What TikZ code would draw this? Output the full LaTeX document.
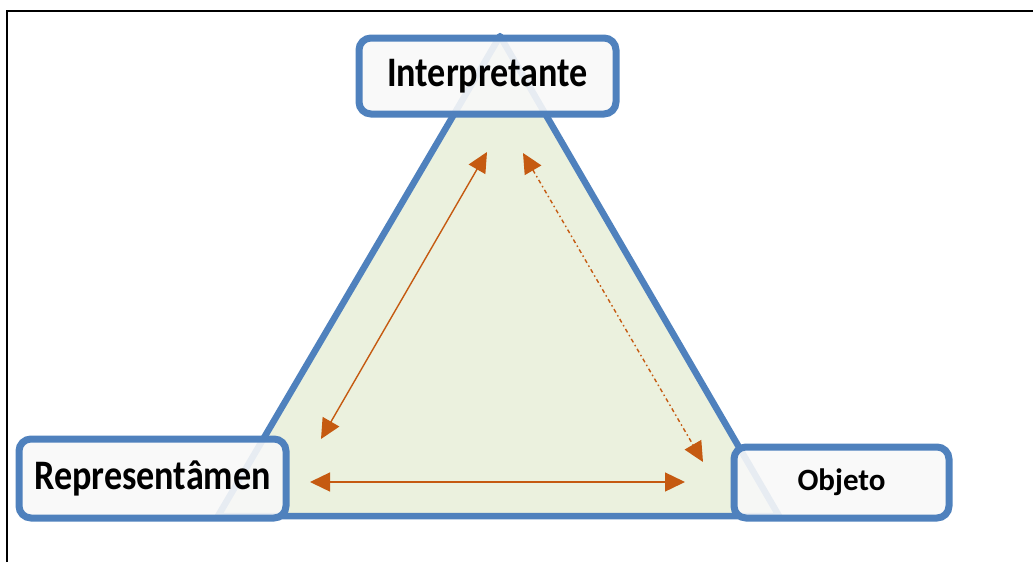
\documentclass[tikz,border=0pt]{standalone}
\usepackage{fontspec}
\newfontfamily\labelfont[FakeStretch=0.86]{Carlito}
\newfontfamily\smalllabelfont{Carlito}
\definecolor{blue1}{RGB}{79, 129, 189}
\definecolor{green1}{RGB}{235, 241, 222}
\definecolor{box1}{RGB}{248, 248, 248}
\definecolor{orange1}{RGB}{197, 90, 17}
\usetikzlibrary{arrows.meta}

\begin{document}
\begin{tikzpicture}[x=1pt, y=-1pt,
    corner/.style={draw=blue1, line width=7pt, rounded corners=12pt, fill=box1,
      fill opacity=0.9, text opacity=1, inner sep=0pt},
    relation/.style={draw=orange1, line width=1.4pt,
      {Triangle[length=20pt, width=19pt]}-{Triangle[length=20pt, width=19pt]}}]
  \useasboundingbox (0,0) rectangle (1033,562);
  \draw[line width=2pt] (7,562) |- (1033,11);

  % triangle of the sign
  \filldraw[fill=green1, draw=blue1, line width=6.5pt, line join=round]
    (500,36) -- (779,516) -- (218,516) -- cycle;

  % corners
  \node[corner, minimum width=257pt, minimum height=76pt] (interp) at (487.5,76)
    {\labelfont\fontsize{42}{48}\selectfont\bfseries Interpretante};
  \node[corner, minimum width=267pt, minimum height=79pt] (repr) at (152.5,478.5)
    {\labelfont\fontsize{42}{48}\selectfont\bfseries Representâmen};
  \node[corner, minimum width=215pt, minimum height=71pt] (obj) at (841.5,482.5)
    {\smalllabelfont\fontsize{31}{36}\selectfont\bfseries Objeto};

  % relations
  \coordinate (interp-l) at (487,152);
  \coordinate (interp-r) at (523,153);
  \coordinate (repr-t) at (321,439);
  \coordinate (repr-r) at (310,482);
  \coordinate (obj-l) at (685,482);
  \coordinate (obj-t) at (703,462);
  \draw[relation] (interp-l) -- (repr-t);
  \draw[relation, dash pattern=on 4pt off 3pt on 1.5pt off 3pt] (interp-r) -- (obj-t);
  \draw[relation] (repr-r) -- (obj-l);
\end{tikzpicture}
\end{document}
